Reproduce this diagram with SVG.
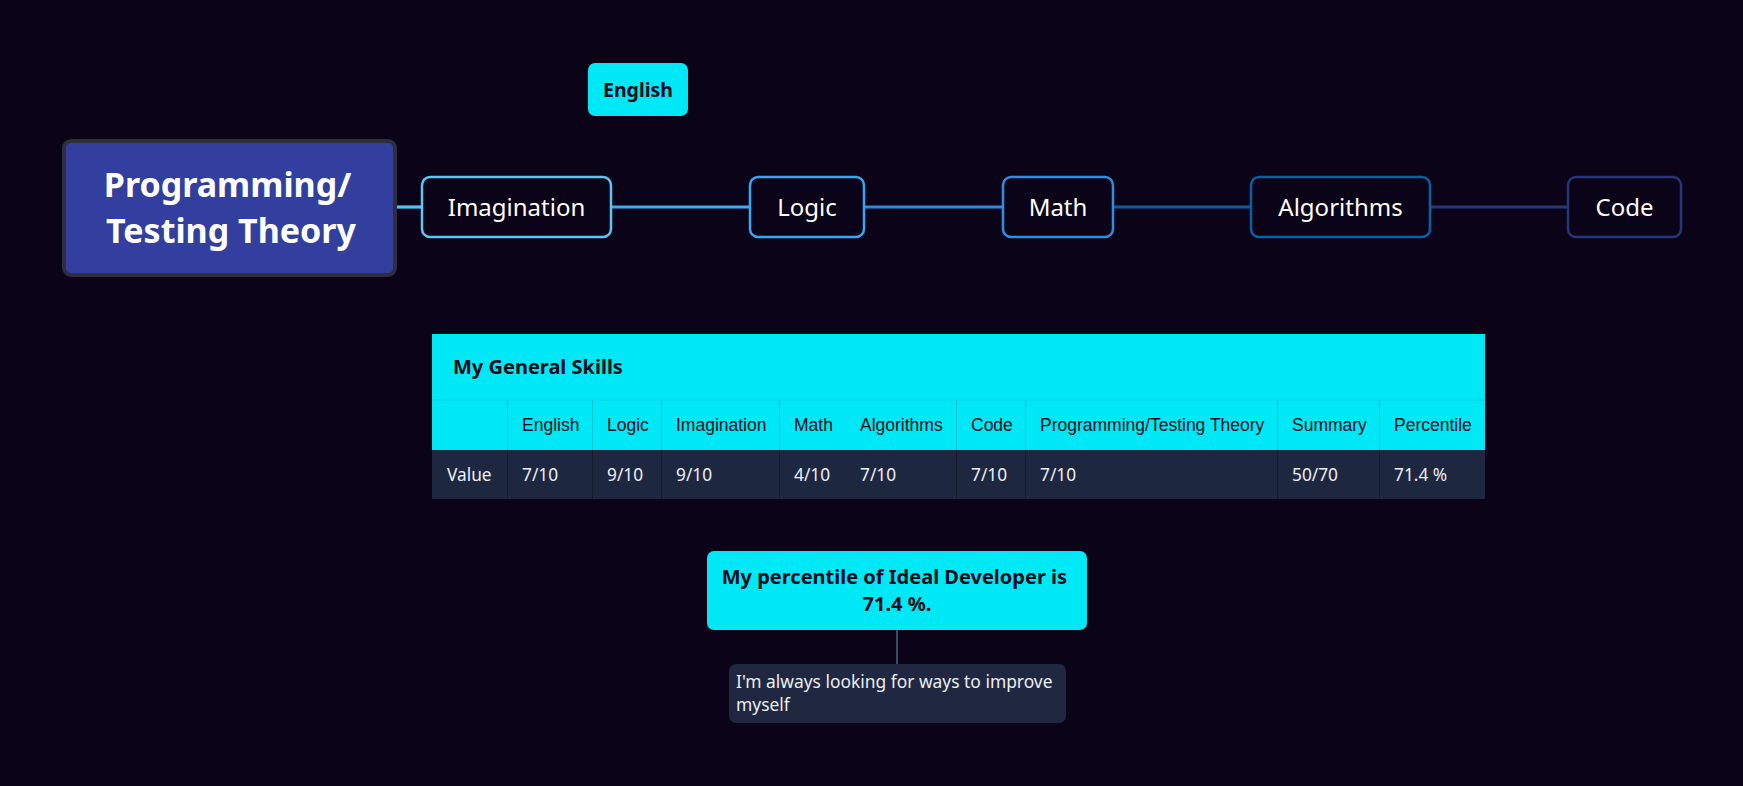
<svg xmlns="http://www.w3.org/2000/svg" width="1743" height="786" viewBox="0 0 1743 786">
  <style>
    .topic { fill: #0b0418; stroke-width: 2.5; }
    .topic-label { font-family: "Noto Sans", "Open Sans", sans-serif; font-size: 24px; fill: #ffffff; text-anchor: middle; }
    .link { fill: none; stroke-width: 3.2; }
    .cyan { fill: #00e8f5; }
    .dark-cell { fill: #1e2740; }
    .hdr-div { stroke: #00c4d4; stroke-width: 1; }
    .val-div { stroke: #141b2e; stroke-width: 1; }
    .hdr { font-family: "Liberation Sans", Arial, sans-serif; font-size: 17.5px; fill: #0d1020; }
    .val { font-family: "Noto Sans", "Open Sans", sans-serif; font-size: 17.3px; fill: #eceef5; }
    .bold-dark { font-family: "Noto Sans", "Open Sans", sans-serif; font-weight: bold; fill: #0b0d1a; }
  </style>

  <!-- background -->
  <rect x="0" y="0" width="1743" height="786" fill="#0b0418"/>

  <!-- connectors -->
  <g id="connectors">
    <line class="link" x1="397" y1="207" x2="422" y2="207" stroke="#4fc3f7"/>
    <line class="link" x1="611" y1="207" x2="749" y2="207" stroke="#3eaaf1"/>
    <line class="link" x1="864" y1="207" x2="1002" y2="207" stroke="#2b8be2"/>
    <line class="link" x1="1113" y1="207" x2="1251" y2="207" stroke="#0b5c9d"/>
    <line class="link" x1="1430" y1="207" x2="1567" y2="207" stroke="#27367a"/>
    <line x1="897" y1="630" x2="897" y2="664" stroke="#3b4a66" stroke-width="2"/>
  </g>

  <!-- floating chip -->
  <g id="node-english">
    <rect x="588" y="63" width="100" height="53" rx="7" fill="#00e8f5"/>
    <text class="bold-dark" x="638" y="97" font-size="19.5" text-anchor="middle">English</text>
  </g>

  <!-- central topic -->
  <g id="node-root">
    <rect x="64" y="141" width="331" height="134" rx="7" fill="#323f9e" stroke="#2e2e3c" stroke-width="4"/>
    <text font-family="Noto Sans, Open Sans, sans-serif" font-weight="bold" font-size="34" fill="#ffffff" text-anchor="middle">
      <tspan x="232" y="197">Programming/</tspan>
      <tspan x="231" y="243">Testing Theory</tspan>
    </text>
  </g>

  <!-- main chain -->
  <g id="node-imagination">
    <rect class="topic" x="422" y="177" width="189" height="60" rx="8" stroke="#5ac8f5"/>
    <text class="topic-label" x="516.5" y="216">Imagination</text>
  </g>
  <g id="node-logic">
    <rect class="topic" x="750" y="177" width="114" height="60" rx="8" stroke="#3aa6ef"/>
    <text class="topic-label" x="807" y="216">Logic</text>
  </g>
  <g id="node-math">
    <rect class="topic" x="1003" y="177" width="110" height="60" rx="8" stroke="#2d8ee3"/>
    <text class="topic-label" x="1058" y="216">Math</text>
  </g>
  <g id="node-algorithms">
    <rect class="topic" x="1251" y="177" width="179" height="60" rx="8" stroke="#0c5fa5"/>
    <text class="topic-label" x="1340.5" y="216">Algorithms</text>
  </g>
  <g id="node-code">
    <rect class="topic" x="1568" y="177" width="113" height="60" rx="8" stroke="#25357a"/>
    <text class="topic-label" x="1624.5" y="216">Code</text>
  </g>

  <!-- skills table -->
  <g id="node-table">
    <rect class="cyan" x="432" y="334" width="1053" height="66"/>
    <rect class="cyan" x="432" y="400" width="1053" height="50"/>
    <line x1="432" y1="400" x2="1485" y2="400" stroke="#00d6e4" stroke-width="1"/>
    <rect class="dark-cell" x="432" y="450" width="1053" height="49"/>

    <text class="bold-dark" x="453" y="374" font-size="20">My General Skills</text>

    <!-- column dividers -->
    <g class="hdr-div">
      <line x1="507.5" y1="400" x2="507.5" y2="450"/>
      <line x1="592.5" y1="400" x2="592.5" y2="450"/>
      <line x1="661.5" y1="400" x2="661.5" y2="450"/>
      <line x1="779.5" y1="400" x2="779.5" y2="450"/>
      <line x1="956.5" y1="400" x2="956.5" y2="450"/>
      <line x1="1025.5" y1="400" x2="1025.5" y2="450"/>
      <line x1="1277.5" y1="400" x2="1277.5" y2="450"/>
      <line x1="1379.5" y1="400" x2="1379.5" y2="450"/>
    </g>
    <g class="val-div">
      <line x1="507.5" y1="450" x2="507.5" y2="499"/>
      <line x1="592.5" y1="450" x2="592.5" y2="499"/>
      <line x1="661.5" y1="450" x2="661.5" y2="499"/>
      <line x1="779.5" y1="450" x2="779.5" y2="499"/>
      <line x1="956.5" y1="450" x2="956.5" y2="499"/>
      <line x1="1025.5" y1="450" x2="1025.5" y2="499"/>
      <line x1="1277.5" y1="450" x2="1277.5" y2="499"/>
      <line x1="1379.5" y1="450" x2="1379.5" y2="499"/>
    </g>

    <!-- header labels -->
    <text class="hdr" x="522" y="431">English</text>
    <text class="hdr" x="607" y="431">Logic</text>
    <text class="hdr" x="676" y="431">Imagination</text>
    <text class="hdr" x="794" y="431">Math</text>
    <text class="hdr" x="860" y="431">Algorithms</text>
    <text class="hdr" x="971" y="431">Code</text>
    <text class="hdr" x="1040" y="431">Programming/Testing Theory</text>
    <text class="hdr" x="1292" y="431">Summary</text>
    <text class="hdr" x="1394" y="431">Percentile</text>

    <!-- value row -->
    <text class="val" x="447" y="481">Value</text>
    <text class="val" x="522" y="481">7/10</text>
    <text class="val" x="607" y="481">9/10</text>
    <text class="val" x="676" y="481">9/10</text>
    <text class="val" x="794" y="481">4/10</text>
    <text class="val" x="860" y="481">7/10</text>
    <text class="val" x="971" y="481">7/10</text>
    <text class="val" x="1040" y="481">7/10</text>
    <text class="val" x="1292" y="481">50/70</text>
    <text class="val" x="1394" y="481">71.4 %</text>
  </g>

  <!-- summary callout -->
  <g id="node-percentile">
    <rect x="707" y="551" width="380" height="79" rx="7" fill="#00e8f5"/>
    <text class="bold-dark" font-size="20" text-anchor="middle">
      <tspan x="897" y="584">My percentile of Ideal Developer is </tspan>
      <tspan x="897" y="611">71.4 %.</tspan>
    </text>
  </g>

  <!-- note -->
  <g id="node-note">
    <rect x="729" y="664" width="337" height="59" rx="7" fill="#1f2840"/>
    <text font-family="Noto Sans, Open Sans, sans-serif" font-size="17.4" fill="#eceef5">
      <tspan x="736" y="688">I'm always looking for ways to improve</tspan>
      <tspan x="736" y="711">myself</tspan>
    </text>
  </g>
</svg>
